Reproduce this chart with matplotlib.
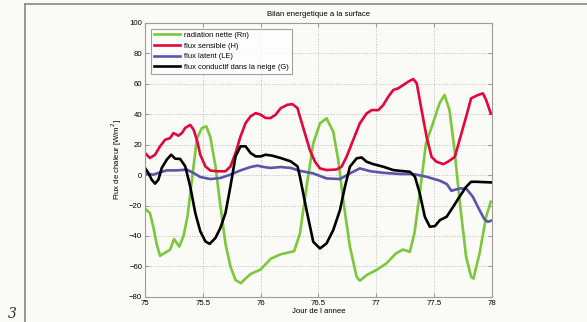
import matplotlib
matplotlib.use('Agg')
import matplotlib.pyplot as plt
from matplotlib.lines import Line2D

plt.rcParams['font.family'] = ['Liberation Sans', 'DejaVu Sans']

# radiation nette (Rn)
rn_x = [75.0, 75.043, 75.072, 75.1, 75.13, 75.174, 75.217, 75.252, 75.296, 75.333, 75.368, 75.406,
        75.449, 75.493, 75.53, 75.565, 75.609, 75.652, 75.696, 75.739, 75.783, 75.83, 75.855, 75.913,
        76.0, 76.087, 76.174, 76.29, 76.34, 76.397, 76.455, 76.513, 76.57, 76.628, 76.671, 76.714,
        76.772, 76.83, 76.858, 76.916, 77.0, 77.088, 77.17, 77.23, 77.29, 77.33, 77.376, 77.43, 77.49,
        77.547, 77.59, 77.633, 77.677, 77.72, 77.777, 77.82, 77.84, 77.893, 77.95, 77.99]
rn_y = [-22, -25, -34, -45, -53, -51, -49, -42, -47, -40, -27, -3,
        24, 31, 32, 25, 6, -20, -45, -60, -69, -71, -69, -65,
        -62, -55, -52, -50, -38.3, -7.7, 20.8, 34, 37.3, 28.5, 10, -16.4,
        -47, -66.8, -69.4, -65.7, -62.4, -58, -51.5, -48.9, -50.4, -38.3, -12, 20.8, 34,
        47.2, 52.6, 42.7, 16.4, -16.4, -53.7, -66.8, -68, -51.5, -27.4, -17.5]

# flux sensible (H)
h_x = [75.0, 75.043, 75.087, 75.13, 75.174, 75.217, 75.246, 75.29, 75.319, 75.348, 75.391, 75.42,
       75.449, 75.478, 75.522, 75.565, 75.623, 75.696, 75.739, 75.783, 75.826, 75.87, 75.913, 75.957,
       76.0, 76.043, 76.087, 76.13, 76.174, 76.232, 76.275, 76.319, 76.34, 76.383, 76.426, 76.47,
       76.513, 76.57, 76.657, 76.7, 76.743, 76.8, 76.858, 76.916, 76.96, 77.018, 77.06, 77.104,
       77.147, 77.19, 77.234, 77.277, 77.32, 77.35, 77.392, 77.435, 77.478, 77.52, 77.58, 77.62,
       77.68, 77.72, 77.777, 77.82, 77.88, 77.922, 77.95, 77.99]
h_y = [14.5, 11.2, 13.4, 18.9, 23.2, 24.3, 27.6, 25.9, 27.6, 31, 33, 29.8,
       23.2, 13.4, 5.7, 3, 2.5, 2.5, 5.7, 14.5, 25.4, 34.2, 38.6, 40.7,
       39.7, 37.5, 37.5, 39.7, 44, 46.2, 46.6, 44, 38.3, 27.4, 16.4, 8.8,
       4.4, 3.3, 3.7, 5.5, 12, 23, 34, 40.5, 42.7, 42.7, 46, 51.5,
       55.9, 57, 59.2, 61.4, 63.1, 60.3, 42.7, 25.2, 12, 8.8, 7.2, 8.8,
       12, 23, 38.3, 50.4, 52.6, 53.7, 49.3, 40.5]

# flux latent (LE)
le_x = [75.0, 75.072, 75.13, 75.188, 75.275, 75.362, 75.42, 75.478, 75.565, 75.652, 75.739, 75.826,
        75.913, 75.971, 76.029, 76.087, 76.174, 76.261, 76.34, 76.455, 76.57, 76.686, 76.772, 76.858,
        76.945, 77.06, 77.205, 77.32, 77.435, 77.55, 77.61, 77.65, 77.72, 77.777, 77.835, 77.893,
        77.936, 77.965, 77.99]
le_y = [0.9, 0.3, 1.8, 3.1, 3.1, 3.6, 1.4, -1.25, -2.6, -1.9, 0.3, 3.1,
        5.3, 6.2, 5.3, 4.7, 5.3, 4.7, 2.8, 1.1, -2.2, -2.6, 1.1, 4.4,
        2.6, 1.5, 0.7, 0.7, -1.1, -3.7, -5.9, -10.3, -8.8, -8.8, -14.2, -23,
        -29.1, -30.7, -30]

# flux conductif dans la neige (G)
g_x = [75.0, 75.029, 75.058, 75.087, 75.116, 75.145, 75.188, 75.226, 75.261, 75.304, 75.348, 75.391,
       75.435, 75.478, 75.522, 75.559, 75.609, 75.652, 75.696, 75.739, 75.783, 75.826, 75.87, 75.913,
       75.957, 76.0, 76.043, 76.101, 76.174, 76.261, 76.319, 76.34, 76.397, 76.455, 76.513, 76.57,
       76.628, 76.686, 76.729, 76.772, 76.83, 76.873, 76.916, 76.974, 77.06, 77.147, 77.205, 77.29,
       77.335, 77.376, 77.42, 77.463, 77.507, 77.55, 77.608, 77.665, 77.72, 77.777, 77.82, 77.865,
       77.99]
g_y = [4.7, 1.4, -3, -5.6, -3, 4.7, 10.1, 13.4, 10.8, 10.6, 5.75, -7.4,
       -24.9, -36.9, -43.5, -45.2, -41.3, -34.7, -24.9, -7.4, 12.3, 18.9, 18.9, 14.5,
       12.3, 12.3, 13.4, 12.75, 11.2, 9, 5.75, -1.1, -23, -43.8, -48.2, -44.9,
       -36.1, -23, -7.7, 5.5, 11, 11.6, 8.8, 7.2, 5.5, 3.3, 2.8, 2.2,
       -1.1, -12, -27.4, -33.9, -33.5, -29.6, -27.4, -20.8, -14.2, -7.7, -4.4, -4.4,
       -4.8]

bg = '#fafaf6'
fig = plt.figure(figsize=(5.87, 3.22), dpi=100, facecolor=bg)
ax = fig.add_axes([0.247, 0.078, 0.591, 0.851])
ax.set_facecolor(bg)

ax.plot(rn_x, rn_y, color='#7cc83c', lw=1.9, label='radiation nette (Rn)')
ax.plot(h_x, h_y, color='#e4063c', lw=1.9, label='flux sensible (H)')
ax.plot(le_x, le_y, color='#5a55a8', lw=1.9, label='flux latent (LE)')
ax.plot(g_x, g_y, color='black', lw=1.9, label='flux conductif dans la neige (G)')

ax.set_xlim(75, 78)
ax.set_ylim(-80, 100)
ax.set_xticks([75, 75.5, 76, 76.5, 77, 77.5, 78])
ax.set_xticklabels(['75', '75.5', '76', '76.5', '77', '77.5', '78'])
ax.set_yticks(range(-80, 101, 20))
ax.set_yticklabels(['\u221280', '\u221260', '\u221240', '\u221220', '0', '20', '40', '60', '80', '100'])
ax.grid(True, linestyle=':', color='#bbbbbb', linewidth=0.7)
ax.tick_params(direction='in', top=True, right=True, labelsize=5.6, length=3, color='#999999', pad=2)
for s in ax.spines.values():
    s.set_color('#a09a98')
    s.set_linewidth(0.8)

ax.set_title('Bilan energetique a la surface', fontsize=5.6, pad=5)
ax.set_xlabel('Jour de l annee', fontsize=5.6, labelpad=1)
ax.set_ylabel('Flux de chaleur [W/m$^2$]', fontsize=5.6, labelpad=4)

leg = ax.legend(loc='upper left', fontsize=5.4, frameon=True, fancybox=False,
                borderaxespad=0.8, handlelength=3.5, labelspacing=0.45, borderpad=0.4,
                handletextpad=0.5)
leg.get_frame().set_edgecolor('#888888')
leg.get_frame().set_linewidth(0.8)
leg.get_frame().set_facecolor('white')

# page frame and page number
fig.add_artist(Line2D([25 / 587, 25 / 587], [0, 1 - 4 / 322], color='#8a8680', lw=1.2))
fig.add_artist(Line2D([25 / 587, 1], [1 - 4 / 322, 1 - 4 / 322], color='#8a8680', lw=1.2))
fig.text(8 / 587, 1 / 322, '3', fontsize=10, style='italic', color='#333333',
         family='DejaVu Serif', va='bottom')

fig.savefig('out.png', dpi=100, facecolor=bg)
